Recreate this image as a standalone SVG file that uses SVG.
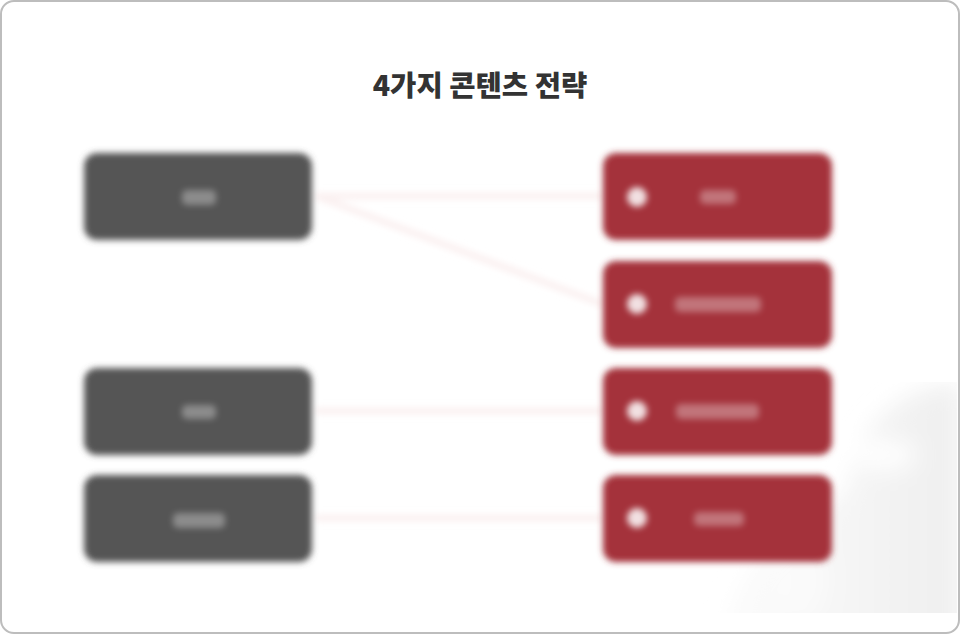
<svg xmlns="http://www.w3.org/2000/svg" width="960" height="634" viewBox="0 0 960 634">
<style>
.title{font-family:"Noto Sans CJK KR","Noto Sans",sans-serif;font-weight:900;font-size:28.6px;fill:#333;text-anchor:middle}
.dark{fill:#555}
.red{fill:#a4323a}
.dot{fill:#fff;opacity:.85}
.smudge{fill:#fff;opacity:.32}
.conn{stroke:#fbf1f1;stroke-width:7;fill:none}
</style>
<defs>
<filter id="b" filterUnits="userSpaceOnUse" x="60" y="130" width="800" height="450"><feGaussianBlur stdDeviation="3.4"/></filter>
<filter id="bc" filterUnits="userSpaceOnUse" x="290" y="170" width="330" height="370"><feGaussianBlur stdDeviation="3"/></filter>
<filter id="bs" filterUnits="userSpaceOnUse" x="60" y="130" width="800" height="450"><feGaussianBlur stdDeviation="3.4"/></filter>
<filter id="bl" filterUnits="userSpaceOnUse" x="660" y="340" width="340" height="320"><feGaussianBlur stdDeviation="11"/></filter>
<linearGradient id="wm" x1="0" y1="0" x2="1" y2="0"><stop offset="0" stop-color="#fcfcfc"/><stop offset=".6" stop-color="#f4f4f4"/><stop offset="1" stop-color="#efefef"/></linearGradient>
<clipPath id="wc"><rect x="700" y="382" width="257" height="231"/></clipPath>
</defs>
<rect x="1" y="1" width="958" height="632" rx="13" fill="#fff" stroke="#bdbdbd" stroke-width="2"/>
<g id="watermark" clip-path="url(#wc)">
<g filter="url(#bl)">
<path d="M722 640C738 560 790 530 850 490C850 440 890 385 960 385V640Z" fill="url(#wm)"/>
<ellipse cx="885" cy="455" rx="32" ry="16" fill="#fff" opacity=".85"/>
<ellipse cx="800" cy="580" rx="30" ry="40" fill="#fff" opacity=".35"/>
</g>
</g>
<text class="title" x="480" y="96">4가지 콘텐츠 전략</text>
<g id="connectors" filter="url(#bc)">
<line class="conn" x1="316" y1="196" x2="602" y2="196"/>
<line class="conn" x1="316" y1="196" x2="602" y2="304"/>
<line class="conn" x1="316" y1="411" x2="602" y2="411"/>
<line class="conn" x1="316" y1="518" x2="602" y2="518"/>
</g>
<g id="node-l1"><rect class="dark" x="84" y="153" width="228" height="87" rx="13" filter="url(#b)"/><rect class="smudge" x="182" y="190" width="34" height="15" rx="5" filter="url(#bs)"/></g>
<g id="node-l2"><rect class="dark" x="84" y="368" width="228" height="87" rx="13" filter="url(#b)"/><rect class="smudge" x="182" y="405" width="34" height="14" rx="5" filter="url(#bs)"/></g>
<g id="node-l3"><rect class="dark" x="84" y="475" width="228" height="87" rx="13" filter="url(#b)"/><rect class="smudge" x="173" y="513" width="52" height="15" rx="5" filter="url(#bs)"/></g>
<g id="node-r1"><rect class="red" x="603" y="153" width="229" height="87" rx="13" filter="url(#b)"/><circle class="dot" cx="637" cy="197" r="10" filter="url(#bs)"/><rect class="smudge" x="700" y="190" width="36" height="14" rx="5" filter="url(#bs)"/></g>
<g id="node-r2"><rect class="red" x="603" y="261" width="229" height="87" rx="13" filter="url(#b)"/><circle class="dot" cx="637" cy="304" r="10" filter="url(#bs)"/><rect class="smudge" x="675" y="297" width="86" height="15" rx="5" filter="url(#bs)"/></g>
<g id="node-r3"><rect class="red" x="603" y="368" width="229" height="87" rx="13" filter="url(#b)"/><circle class="dot" cx="637" cy="411" r="10" filter="url(#bs)"/><rect class="smudge" x="676" y="404" width="83" height="15" rx="5" filter="url(#bs)"/></g>
<g id="node-r4"><rect class="red" x="603" y="475" width="229" height="87" rx="13" filter="url(#b)"/><circle class="dot" cx="637" cy="518" r="10" filter="url(#bs)"/><rect class="smudge" x="694" y="512" width="50" height="14" rx="5" filter="url(#bs)"/></g>
</svg>
